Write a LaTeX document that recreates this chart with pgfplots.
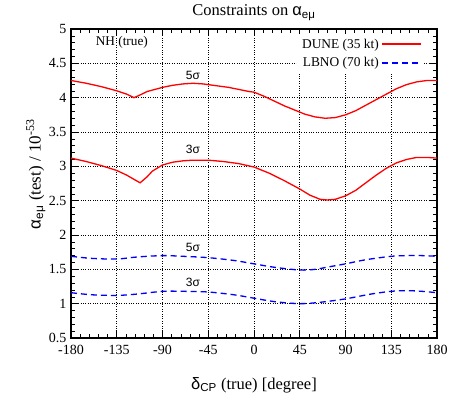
\documentclass[border=0pt]{standalone}
\usepackage{fontspec}
\setmainfont{Liberation Serif}
\newfontfamily\gr{Liberation Sans}
\usepackage{pgfplots}
\pgfplotsset{compat=1.18}
\usetikzlibrary{calc}
\definecolor{dred}{RGB}{255,0,0}
\definecolor{dblue}{RGB}{0,0,255}
\begin{document}
\begin{tikzpicture}
\begin{axis}[name=ax,
  width=366pt, height=309pt, scale only axis,
  xmin=-180, xmax=180, ymin=0.5, ymax=5,
  xtick={-180,-135,...,180}, ytick={0.5,1,...,5},
  yticklabels={0.5,1,1.5,2,2.5,3,3.5,4,4.5,5},
  minor x tick num=4, minor y tick num=4,
  tick align=inside, major tick length=7pt, minor tick length=4pt,
  tick style={black, line width=0.6pt},
  axis line style={line width=1.1pt},
  xmajorgrids, ymajorgrids,
  grid style={black, dotted, line width=0.6pt},
  /pgf/number format/assume math mode=true,
  ticklabel style={font=\fontsize{14}{14}\selectfont},
  xticklabel style={yshift=-4pt},
  yticklabel style={xshift=-1pt},
  title={Constraints on {\gr α\textsubscript{eμ}}},
  title style={font=\fontsize{16.5}{16.5}\selectfont, at={(axis description cs:0.5,1.052)}, anchor=center, yshift=-6pt},
  xlabel={{\gr δ\textsubscript{CP}} (true) [degree]},
  xlabel style={font=\fontsize{16.5}{16.5}\selectfont, at={(axis description cs:0.5,-0.152)}, anchor=center},
  ylabel={{\gr α\textsubscript{eμ}} (test) / 10\textsuperscript{-53}},
  ylabel style={font=\fontsize{17}{17}\selectfont, at={(axis description cs:-0.096,0.53)}, anchor=center},
  legend plot pos=right,
  legend cell align=right,
  legend image code/.code={\draw[#1] (0pt,0pt) -- (39pt,0pt);},
  legend style={at={(axis description cs:0.966,0.985)}, anchor=north east, draw=none, fill=white,
    font=\fontsize{13.4}{13.4}\selectfont, row sep=4pt, inner sep=3pt},
  clip=true,
]
\addplot[draw=dred, line width=1.3pt, forget plot] coordinates {
(-180,4.25) (-165,4.21) (-150,4.16) (-135,4.10) (-125,4.05) (-118,4.00) (-112,4.04) (-105,4.09) (-95,4.13) (-90,4.15) (-80,4.18) (-70,4.20) (-60,4.21) (-50,4.20) (-45,4.19) (-35,4.17) (-25,4.15) (-15,4.12) (-5,4.09) (0,4.08) (10,4.02) (20,3.95) (30,3.88) (40,3.82) (50,3.76) (60,3.72) (70,3.70) (80,3.71) (90,3.75) (100,3.81) (110,3.89) (120,3.97) (130,4.05) (140,4.13) (150,4.19) (160,4.23) (170,4.25) (180,4.25)};
\addplot[draw=dblue, line width=1.3pt, dash pattern=on 6pt off 4pt, smooth, forget plot] coordinates {
(-180,1.69) (-160,1.66) (-135,1.65) (-115,1.68) (-90,1.70) (-70,1.69) (-45,1.67) (-20,1.63) (0,1.58) (20,1.53) (45,1.49) (60,1.50) (75,1.54) (90,1.58) (110,1.64) (135,1.69) (150,1.70) (165,1.70) (180,1.69)};
\addplot[draw=dred, line width=1.3pt, forget plot] coordinates {
(-180,3.12) (-165,3.07) (-150,3.01) (-135,2.94) (-125,2.87) (-118,2.81) (-112,2.76) (-105,2.85) (-100,2.93) (-90,3.02) (-80,3.06) (-70,3.08) (-60,3.09) (-45,3.09) (-30,3.07) (-15,3.04) (0,2.99) (15,2.90) (30,2.79) (45,2.67) (55,2.58) (65,2.52) (72,2.51) (80,2.52) (90,2.57) (100,2.65) (110,2.76) (120,2.87) (130,2.97) (140,3.05) (150,3.10) (160,3.13) (170,3.13) (180,3.12)};
\addplot[draw=dblue, line width=1.3pt, dash pattern=on 6pt off 4pt, smooth, forget plot] coordinates {
(-180,1.16) (-160,1.13) (-135,1.12) (-115,1.14) (-90,1.18) (-70,1.18) (-45,1.17) (-20,1.13) (0,1.08) (20,1.03) (45,1.00) (65,1.02) (90,1.07) (115,1.14) (135,1.18) (150,1.19) (165,1.18) (180,1.16)};
\addlegendimage{draw=dred, line width=1.6pt}
\addlegendentry{DUNE (35 kt)}
\addlegendimage{draw=dblue, line width=1.6pt, dash pattern=on 6pt off 4pt}
\addlegendentry{LBNO (70 kt)}
\node[font=\fontsize{13.3}{13.3}\selectfont] at (axis cs:-130,4.8) {NH (true)};
\node[font=\fontsize{12}{12}\selectfont\gr] at (axis cs:-60,4.32) {5σ};
\node[font=\fontsize{12}{12}\selectfont\gr] at (axis cs:-60,3.25) {3σ};
\node[font=\fontsize{12}{12}\selectfont\gr] at (axis cs:-60,1.82) {5σ};
\node[font=\fontsize{12}{12}\selectfont\gr] at (axis cs:-60,1.31) {3σ};
\end{axis}
\pgfresetboundingbox
\path ($(ax.south west)+(-71pt,-56pt)$) rectangle ($(ax.north east)+(14pt,29pt)$);
\end{tikzpicture}
\end{document}
